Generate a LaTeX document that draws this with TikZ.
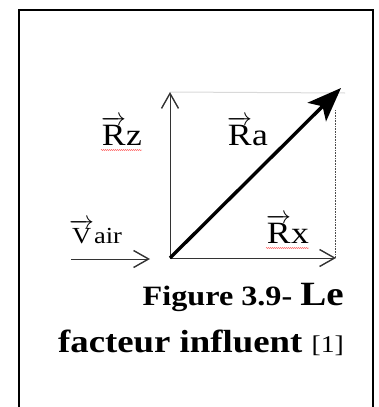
\documentclass[tikz,border=0pt]{standalone}
\usepackage{fontspec}
\setmainfont[FakeStretch=1.15]{Liberation Serif}
\usetikzlibrary{arrows.meta,decorations.pathmorphing}

\newcommand{\varrow}[1]{\ensuremath{\overrightarrow{\hbox{#1}}}}

\begin{document}
\begin{tikzpicture}[
  x=1pt,
  y=-1pt,
  frame/.style={draw=black, line width=2pt},
  thinvec/.style={black!80, line width=0.8pt, -{Straight Barb[length=15pt, width=17pt, line width=1.4pt]}},
  bigvec/.style={black, line width=3.4pt, -{Stealth[length=34pt, width=26pt, inset=8pt]}},
  guide/.style={black!15, line width=1pt},
  dotguide/.style={black!70, densely dotted, line width=0.6pt},
  vlabel/.style={font=\fontsize{31}{33}\selectfont, inner sep=0pt, anchor=base west},
  spell/.style={red!80, line width=0.4pt, decorate, decoration={snake, amplitude=0.5pt, segment length=2pt}},
  captext/.style={inner sep=0pt, anchor=base east, font=\bfseries}
]
\useasboundingbox (0,0) rectangle (379,407);
\draw[frame] (19,10) rectangle (373,430);

% vector origin and tips
\coordinate (o) at (170,258);
\coordinate (rz) at (170,92);
\coordinate (ra) at (341,88);
\coordinate (rx) at (336,258);
\coordinate (vs) at (71,259);
\coordinate (ve) at (150,259);
\coordinate (tl) at (345,93);
\coordinate (dt) at (335,110);
\coordinate (db) at (335,258);

\draw[guide] (rz) -- (tl);
\draw[dotguide] (dt) -- (db);
\draw[thinvec] (o) -- (rz);
\draw[thinvec] (o) -- (rx);
\draw[thinvec] (vs) -- (ve);
\draw[bigvec] (o) -- (ra);

\node[vlabel] (lrz) at (101,145) {\varrow{R}z};
\node[vlabel] (lra) at (227,145) {\varrow{R}a};
\node[vlabel, font=\fontsize{23}{25}\selectfont] (lva) at (69,243) {\varrow{V}air};
\node[vlabel] (lrx) at (266,243) {\varrow{R}x};
\draw[spell] ([yshift=-5pt]lrz.base west) -- ([yshift=-5pt]lrz.base east);
\draw[spell] ([yshift=-5pt]lrx.base west) -- ([yshift=-5pt]lrx.base east);

\node[captext] (c1) at (344,305) {\fontsize{28}{30}\selectfont Figure 3.9- \fontsize{34}{36}\selectfont Le};
\node[captext] (c2) at (344,352) {\fontsize{32}{34}\selectfont facteur influent \fontsize{24}{26}\selectfont\mdseries [1]};
\end{tikzpicture}
\end{document}
